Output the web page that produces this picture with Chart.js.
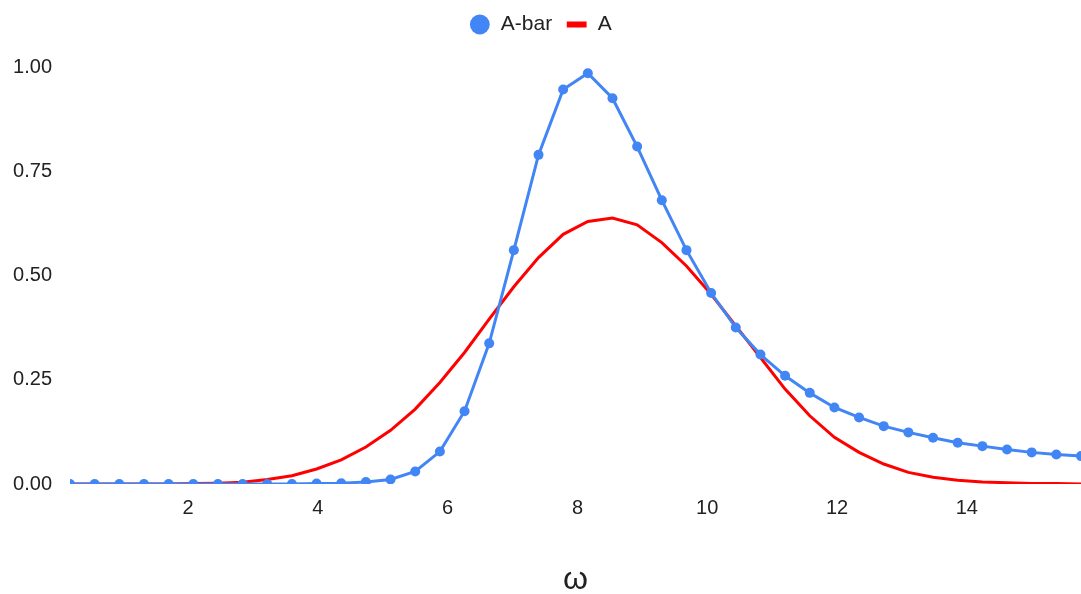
<!DOCTYPE html>
<html>
<head>
<meta charset="utf-8">
<script src="https://cdn.jsdelivr.net/npm/chart.js"></script>
<style>
  html, body { margin: 0; padding: 0; background: #fff; }
  #wrap { width: 1081px; height: 594px; }
</style>
</head>
<body>
<div id="wrap"><canvas id="mycanvas" width="1081" height="594"></canvas></div>
<script>
// sample points (omega) shared by both series
var omega = [0.18, 0.56, 0.94, 1.32, 1.70, 2.08, 2.46, 2.84, 3.22, 3.60,
             3.98, 4.36, 4.74, 5.12, 5.50, 5.88, 6.26, 6.64, 7.02, 7.40,
             7.78, 8.16, 8.54, 8.92, 9.30, 9.68, 10.06, 10.44, 10.82, 11.20,
             11.58, 11.96, 12.34, 12.72, 13.10, 13.48, 13.86, 14.24, 14.62, 15.00,
             15.38, 15.76];

var aBar = [0, 0, 0, 0, 0, 0, 0, 0, 0, 0,
            0.001, 0.002, 0.005, 0.011, 0.030, 0.078, 0.175, 0.338, 0.562, 0.791,
            0.948, 0.987, 0.927, 0.811, 0.682, 0.562, 0.459, 0.376, 0.311, 0.260,
            0.219, 0.184, 0.160, 0.139, 0.124, 0.111, 0.099, 0.091, 0.083, 0.076,
            0.071, 0.067];

var a = [0, 0, 0, 0, 0, 0.001, 0.002, 0.004, 0.011, 0.020,
         0.036, 0.058, 0.089, 0.129, 0.180, 0.244, 0.316, 0.396, 0.474, 0.544,
         0.600, 0.631, 0.639, 0.623, 0.580, 0.524, 0.456, 0.380, 0.304, 0.228,
         0.164, 0.112, 0.076, 0.048, 0.028, 0.016, 0.009, 0.005, 0.003, 0.001,
         0.001, 0];

var xTicks = [2, 4, 6, 8, 10, 12, 14];
var yTicks = [0, 0.25, 0.5, 0.75, 1];

var blue = '#4285F4';
var red = '#FF0000';
var textColor = '#222';
var fontFamily = '"Liberation Sans", Arial, sans-serif';

function toPoints(ys) {
    var pts = [];
    for (var i in ys) {
        pts.push({ x: omega[i], y: ys[i] });
    }
    return pts;
}

var chartdata = {
    datasets: [{
        label: 'A-bar',
        data: toPoints(aBar),
        borderColor: blue,
        backgroundColor: blue,
        borderWidth: 3,
        pointRadius: 5,
        pointBorderWidth: 0,
        pointBackgroundColor: blue,
        tension: 0
    }, {
        label: 'A',
        data: toPoints(a),
        borderColor: red,
        backgroundColor: red,
        borderWidth: 3,
        pointRadius: 0,
        tension: 0
    }]
};

var ctx = document.getElementById('mycanvas');

var lineGraph = new Chart(ctx, {
    type: 'line',
    data: chartdata,
    options: {
        responsive: false,
        animation: false,
        layout: { padding: 0, autoPadding: false },
        plugins: {
            legend: {
                position: 'top',
                labels: {
                    usePointStyle: true,
                    boxHeight: 14,
                    boxWidth: 21,
                    padding: 14,
                    color: textColor,
                    font: { family: fontFamily, size: 21 },
                    generateLabels: function(chart) {
                        return [
                            { text: 'A-bar', fillStyle: blue, strokeStyle: blue, lineWidth: 0, pointStyle: 'circle', datasetIndex: 0, fontColor: textColor },
                            { text: 'A', fillStyle: red, strokeStyle: red, lineWidth: 6, pointStyle: 'line', datasetIndex: 1, fontColor: textColor }
                        ];
                    }
                }
            },
            tooltip: { enabled: false }
        },
        scales: {
            x: {
                type: 'linear',
                min: omega[0],
                max: omega[omega.length - 1],
                grid: { display: false, drawTicks: false },
                border: { display: false },
                ticks: {
                    padding: 12,
                    maxRotation: 0,
                    autoSkip: false,
                    color: textColor,
                    font: { family: fontFamily, size: 20 }
                },
                afterBuildTicks: function(scale) {
                    scale.ticks = xTicks.map(function(v) { return { value: v }; });
                },
                afterFit: function(scale) {
                    scale.height = 110;
                },
                title: {
                    display: true,
                    text: 'ω',
                    color: textColor,
                    font: { family: fontFamily, size: 32, lineHeight: 0.875 },
                    padding: { top: 0, bottom: 0 }
                }
            },
            y: {
                min: 0,
                max: 1.055,
                grid: { display: false, drawTicks: false },
                border: { display: false },
                ticks: {
                    padding: 18,
                    color: textColor,
                    font: { family: fontFamily, size: 20 },
                    callback: function(v) { return v.toFixed(2); }
                },
                afterBuildTicks: function(scale) {
                    scale.ticks = yTicks.map(function(v) { return { value: v }; });
                },
                afterFit: function(scale) {
                    scale.width = 70;
                }
            }
        }
    }
});
</script>
</body>
</html>
